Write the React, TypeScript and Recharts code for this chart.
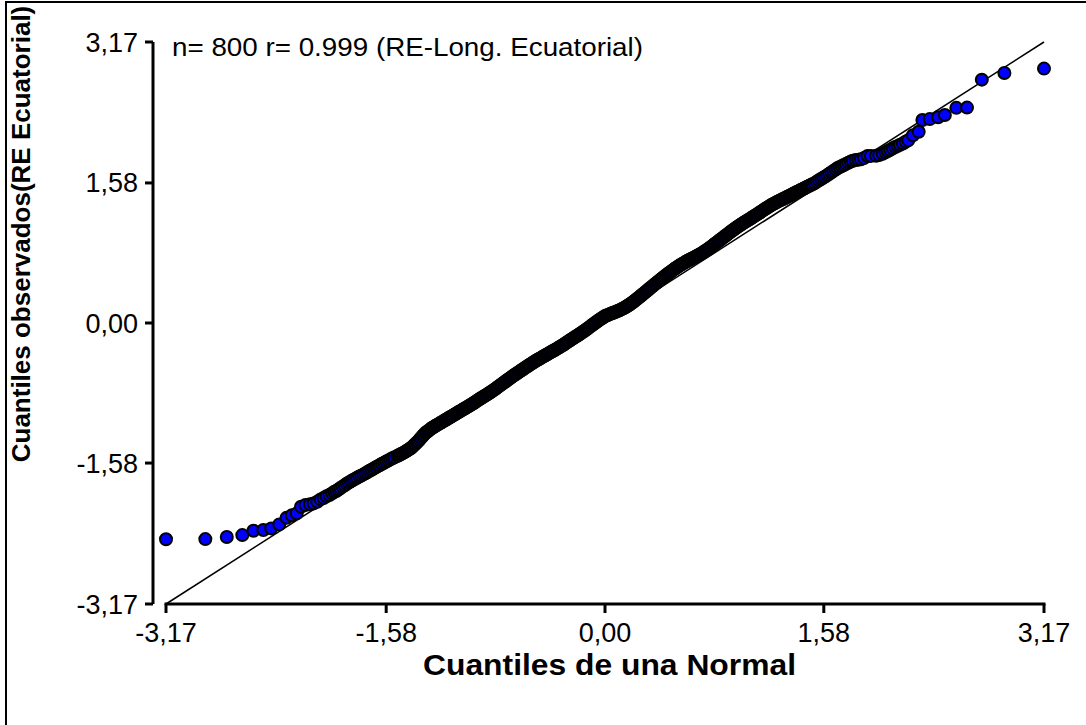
import React from 'react';
import { ScatterChart, Scatter, XAxis, YAxis, ReferenceLine } from 'recharts';

const WIDTH = 1086;
const HEIGHT = 725;
const FONT = '"Liberation Sans", Arial, sans-serif';

// Axis ticks (both axes share the same range) and their printed labels
const axisTicks = [-3.17, -1.58, 0, 1.58, 3.17];
const axisTickLabels = ['-3,17', '-1,58', '0,00', '1,58', '3,17'];

// Lower tail of the normal Q-Q plot: [theoretical quantile, observed quantile]
const lowerTail: [number, number][] = [
  [-3.17, -2.44], [-2.886, -2.438], [-2.731, -2.415], [-2.619, -2.393], [-2.539, -2.344],
  [-2.467, -2.336], [-2.41, -2.317], [-2.352, -2.272], [-2.3, -2.198], [-2.262, -2.17],
  [-2.226, -2.148], [-2.195, -2.073], [-2.163, -2.054], [-2.13, -2.045], [-2.104, -2.035],
  [-2.078, -2.017], [-2.054, -1.99], [-2.032, -1.975], [-2.011, -1.955], [-1.99, -1.941],
  [-1.97, -1.92], [-1.955, -1.905],
];

// Shoulder between the lower tail and the body
const lowerShoulder: [number, number][] = [
  [-1.94, -1.895], [-1.925, -1.878], [-1.91, -1.862], [-1.895, -1.846], [-1.88, -1.83],
  [-1.865, -1.814], [-1.85, -1.799], [-1.835, -1.785], [-1.82, -1.771], [-1.805, -1.759],
  [-1.79, -1.745], [-1.775, -1.732], [-1.76, -1.722], [-1.745, -1.708], [-1.73, -1.696],
  [-1.715, -1.682], [-1.7, -1.668], [-1.685, -1.656], [-1.67, -1.642], [-1.655, -1.628],
  [-1.64, -1.615], [-1.625, -1.602], [-1.61, -1.588], [-1.595, -1.576], [-1.58, -1.562],
  [-1.565, -1.551], [-1.55, -1.538], [-1.535, -1.526], [-1.52, -1.515],
];

// Central body of the sample (theoretical quantiles)
const bodyX = [
  -1.5, -1.49, -1.48, -1.47, -1.46, -1.45, -1.44, -1.43, -1.42, -1.41,
  -1.4, -1.39, -1.38, -1.37, -1.36, -1.35, -1.34, -1.33, -1.32, -1.31,
  -1.3, -1.29, -1.28, -1.27, -1.26, -1.25, -1.24, -1.23, -1.22, -1.21,
  -1.2, -1.19, -1.18, -1.17, -1.16, -1.15, -1.14, -1.13, -1.12, -1.11,
  -1.1, -1.09, -1.08, -1.07, -1.06, -1.05, -1.04, -1.03, -1.02, -1.01,
  -1.0, -0.99, -0.98, -0.97, -0.96, -0.95, -0.94, -0.93, -0.92, -0.91,
  -0.9, -0.89, -0.88, -0.87, -0.86, -0.85, -0.84, -0.83, -0.82, -0.81,
  -0.8, -0.79, -0.78, -0.77, -0.76, -0.75, -0.74, -0.73, -0.72, -0.71,
  -0.7, -0.69, -0.68, -0.67, -0.66, -0.65, -0.64, -0.63, -0.62, -0.61,
  -0.6, -0.59, -0.58, -0.57, -0.56, -0.55, -0.54, -0.53, -0.52, -0.51,
  -0.5, -0.49, -0.48, -0.47, -0.46, -0.45, -0.44, -0.43, -0.42, -0.41,
  -0.4, -0.39, -0.38, -0.37, -0.36, -0.35, -0.34, -0.33, -0.32, -0.31,
  -0.3, -0.29, -0.28, -0.27, -0.26, -0.25, -0.24, -0.23, -0.22, -0.21,
  -0.2, -0.19, -0.18, -0.17, -0.16, -0.15, -0.14, -0.13, -0.12, -0.11,
  -0.1, -0.09, -0.08, -0.07, -0.06, -0.05, -0.04, -0.03, -0.02, -0.01,
  0.0, 0.01, 0.02, 0.03, 0.04, 0.05, 0.06, 0.07, 0.08, 0.09,
  0.1, 0.11, 0.12, 0.13, 0.14, 0.15, 0.16, 0.17, 0.18, 0.19,
  0.2, 0.21, 0.22, 0.23, 0.24, 0.25, 0.26, 0.27, 0.28, 0.29,
  0.3, 0.31, 0.32, 0.33, 0.34, 0.35, 0.36, 0.37, 0.38, 0.39,
  0.4, 0.41, 0.42, 0.43, 0.44, 0.45, 0.46, 0.47, 0.48, 0.49,
  0.5, 0.51, 0.52, 0.53, 0.54, 0.55, 0.56, 0.57, 0.58, 0.59,
  0.6, 0.61, 0.62, 0.63, 0.64, 0.65, 0.66, 0.67, 0.68, 0.69,
  0.7, 0.71, 0.72, 0.73, 0.74, 0.75, 0.76, 0.77, 0.78, 0.79,
  0.8, 0.81, 0.82, 0.83, 0.84, 0.85, 0.86, 0.87, 0.88, 0.89,
  0.9, 0.91, 0.92, 0.93, 0.94, 0.95, 0.96, 0.97, 0.98, 0.99,
  1.0, 1.01, 1.02, 1.03, 1.04, 1.05, 1.06, 1.07, 1.08, 1.09,
  1.1, 1.11, 1.12, 1.13, 1.14, 1.15, 1.16, 1.17, 1.18, 1.19,
  1.2, 1.21, 1.22, 1.23, 1.24, 1.25, 1.26, 1.27, 1.28, 1.29,
  1.3, 1.31, 1.32, 1.33, 1.34, 1.35, 1.36, 1.37, 1.38, 1.39,
  1.4, 1.41, 1.42, 1.43, 1.44, 1.45, 1.46, 1.47, 1.48, 1.49,
];

// Central body of the sample (observed quantiles, same order as bodyX)
const bodyY = [
  -1.5, -1.492, -1.484, -1.476, -1.468, -1.46, -1.45, -1.44, -1.43, -1.42,
  -1.41, -1.395, -1.38, -1.365, -1.35, -1.335, -1.317, -1.299, -1.281, -1.263,
  -1.245, -1.233, -1.221, -1.209, -1.197, -1.185, -1.176, -1.166, -1.157, -1.147,
  -1.138, -1.129, -1.12, -1.11, -1.101, -1.092, -1.083, -1.073, -1.064, -1.054,
  -1.045, -1.036, -1.026, -1.017, -1.007, -0.998, -0.989, -0.98, -0.97, -0.961,
  -0.952, -0.943, -0.933, -0.924, -0.914, -0.905, -0.894, -0.884, -0.873, -0.863,
  -0.852, -0.843, -0.833, -0.824, -0.814, -0.805, -0.794, -0.784, -0.773, -0.763,
  -0.752, -0.741, -0.729, -0.718, -0.706, -0.695, -0.684, -0.672, -0.661, -0.649,
  -0.638, -0.627, -0.616, -0.604, -0.593, -0.582, -0.572, -0.561, -0.551, -0.54,
  -0.53, -0.519, -0.509, -0.498, -0.488, -0.477, -0.467, -0.457, -0.447, -0.437,
  -0.427, -0.418, -0.409, -0.4, -0.391, -0.382, -0.373, -0.364, -0.355, -0.346,
  -0.337, -0.328, -0.319, -0.31, -0.301, -0.292, -0.283, -0.273, -0.264, -0.254,
  -0.245, -0.234, -0.224, -0.213, -0.203, -0.192, -0.182, -0.172, -0.162, -0.152,
  -0.142, -0.132, -0.121, -0.111, -0.1, -0.09, -0.078, -0.067, -0.055, -0.044,
  -0.032, -0.02, -0.009, 0.003, 0.014, 0.026, 0.036, 0.047, 0.057, 0.068,
  0.078, 0.084, 0.091, 0.097, 0.104, 0.11, 0.116, 0.122, 0.128, 0.134,
  0.14, 0.148, 0.156, 0.164, 0.172, 0.18, 0.191, 0.201, 0.212, 0.222,
  0.233, 0.245, 0.258, 0.27, 0.283, 0.295, 0.308, 0.321, 0.334, 0.347,
  0.36, 0.373, 0.386, 0.399, 0.412, 0.425, 0.438, 0.45, 0.463, 0.475,
  0.488, 0.5, 0.513, 0.525, 0.538, 0.55, 0.562, 0.573, 0.585, 0.596,
  0.608, 0.618, 0.629, 0.639, 0.65, 0.66, 0.669, 0.678, 0.687, 0.696,
  0.705, 0.713, 0.721, 0.729, 0.737, 0.745, 0.754, 0.762, 0.771, 0.779,
  0.788, 0.798, 0.809, 0.819, 0.83, 0.84, 0.852, 0.864, 0.876, 0.888,
  0.9, 0.912, 0.924, 0.936, 0.948, 0.96, 0.972, 0.984, 0.996, 1.008,
  1.02, 1.032, 1.043, 1.055, 1.066, 1.078, 1.088, 1.099, 1.109, 1.12,
  1.13, 1.14, 1.149, 1.159, 1.168, 1.178, 1.188, 1.198, 1.208, 1.218,
  1.228, 1.238, 1.249, 1.259, 1.27, 1.28, 1.29, 1.3, 1.31, 1.32,
  1.33, 1.338, 1.347, 1.355, 1.364, 1.372, 1.38, 1.387, 1.395, 1.402,
  1.41, 1.418, 1.426, 1.434, 1.442, 1.45, 1.458, 1.466, 1.474, 1.482,
  1.49, 1.498, 1.505, 1.513, 1.52, 1.528, 1.536, 1.544, 1.552, 1.56,
];

// Shoulder between the body and the upper tail
const upperShoulder: [number, number][] = [
  [1.5, 1.568], [1.515, 1.578], [1.53, 1.595], [1.545, 1.61], [1.56, 1.625],
  [1.575, 1.638], [1.59, 1.653], [1.605, 1.668], [1.62, 1.684], [1.635, 1.7],
  [1.65, 1.716], [1.665, 1.732], [1.68, 1.748], [1.695, 1.76], [1.71, 1.77],
  [1.725, 1.782], [1.74, 1.795], [1.757, 1.808], [1.775, 1.822], [1.79, 1.83],
  [1.81, 1.838], [1.83, 1.843],
];

// Upper tail
const upperTail: [number, number][] = [
  [1.848, 1.848], [1.87, 1.86], [1.896, 1.884], [1.92, 1.885], [1.957, 1.886],
  [1.98, 1.895], [2.005, 1.91], [2.025, 1.925], [2.042, 1.94], [2.06, 1.955],
  [2.078, 1.97], [2.096, 1.985], [2.114, 1.998], [2.13, 2.01], [2.151, 2.024],
  [2.17, 2.045], [2.19, 2.062], [2.224, 2.118], [2.265, 2.157], [2.292, 2.29],
  [2.345, 2.3], [2.406, 2.32], [2.454, 2.347], [2.537, 2.427], [2.614, 2.43],
  [2.721, 2.745], [2.884, 2.82], [3.17, 2.87],
];

// Reference line y = x
const referenceEnds: [number, number][] = [[-3.17, -3.17], [3.17, 3.17]];

const toPoints = (rows: [number, number][]) => rows.map(([x, y]) => ({ x, y }));
const bodyRows: [number, number][] = bodyX.map((x, i) => [x, bodyY[i]]);
const samplePoints = toPoints([...lowerTail, ...lowerShoulder, ...bodyRows, ...upperShoulder, ...upperTail]);
const referencePoints = toPoints(referenceEnds);

const labelFor = (v: number) => {
  const i = axisTicks.findIndex((t) => Math.abs(t - v) < 1e-6);
  return i >= 0 ? axisTickLabels[i] : String(v);
};

const SampleDot = (props: any) => (
  <circle cx={props.cx} cy={props.cy} r={6} fill="#0000FF" stroke="#000000" strokeWidth={2} />
);

const NoDot = () => <g />;

const YTick = (props: any) => (
  <text x={props.x} y={props.y} dy={9.5} textAnchor="end" fontFamily={FONT} fontSize={27} fill="#000">
    {labelFor(props.payload.value)}
  </text>
);

const XTick = (props: any) => (
  <text x={props.x} y={props.y} dy={27} textAnchor="middle" fontFamily={FONT} fontSize={27} fill="#000">
    {labelFor(props.payload.value)}
  </text>
);

export default function App() {
  return (
    <div style={{ position: 'absolute', left: 0, top: 0, width: WIDTH, height: HEIGHT, background: '#fff' }}>
      <ScatterChart
        width={WIDTH}
        height={HEIGHT}
        margin={{ top: 42, right: 32, bottom: 61, left: 0 }}
      >
        <XAxis
          type="number"
          dataKey="x"
          domain={[-3.17, 3.17]}
          ticks={axisTicks}
          interval={0}
          padding={{ left: 13, right: 10 }}
          height={60}
          axisLine={false}
          tickLine={{ stroke: '#000', strokeWidth: 3 }}
          tickSize={9}
          tickMargin={2}
          tick={<XTick />}
        />
        <YAxis
          type="number"
          dataKey="y"
          domain={[-3.17, 3.17]}
          ticks={axisTicks}
          interval={0}
          width={153}
          axisLine={{ stroke: '#000', strokeWidth: 3 }}
          tickLine={{ stroke: '#000', strokeWidth: 3 }}
          tickSize={8}
          tickMargin={7}
          tick={<YTick />}
        />
        <ReferenceLine
          segment={[{ x: -3.17, y: -3.17 }, { x: 3.17, y: -3.17 }]}
          stroke="#000"
          strokeWidth={3}
          strokeLinecap="square"
          ifOverflow="visible"
        />
        <Scatter
          data={referencePoints}
          line={{ stroke: '#000', strokeWidth: 1.5 }}
          shape={<NoDot />}
          isAnimationActive={false}
        />
        <Scatter data={samplePoints} shape={<SampleDot />} isAnimationActive={false} />
      </ScatterChart>
      <svg
        width={WIDTH}
        height={HEIGHT}
        style={{ position: 'absolute', left: 0, top: 0, pointerEvents: 'none' }}
      >
        <line x1={6} y1={2} x2={6} y2={HEIGHT} stroke="#000" strokeWidth={2} />
        <line x1={5} y1={2} x2={WIDTH} y2={2} stroke="#000" strokeWidth={2} />
        <text
          x={172}
          y={56}
          fontFamily={FONT}
          fontSize={25}
          textLength={471}
          lengthAdjust="spacingAndGlyphs"
          fill="#000"
        >
          n= 800 r= 0.999 (RE-Long. Ecuatorial)
        </text>
        <text
          x={423}
          y={675}
          fontFamily={FONT}
          fontSize={29}
          fontWeight="bold"
          textLength={373}
          lengthAdjust="spacingAndGlyphs"
          fill="#000"
        >
          Cuantiles de una Normal
        </text>
        <text
          transform="translate(30, 234) rotate(-90)"
          textAnchor="middle"
          fontFamily={FONT}
          fontSize={26}
          fontWeight="bold"
          fill="#000"
        >
          Cuantiles observados(RE Ecuatorial)
        </text>
      </svg>
    </div>
  );
}
